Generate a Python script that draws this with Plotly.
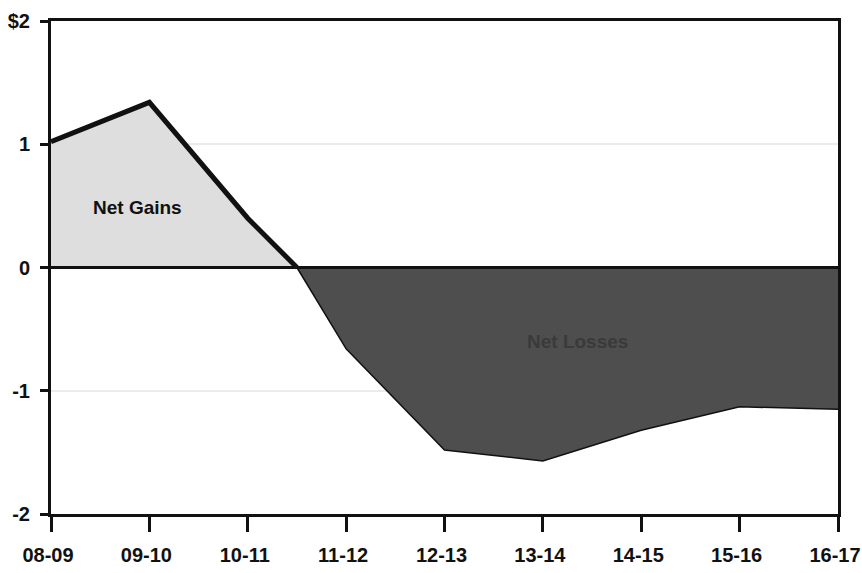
import plotly.graph_objects as go

categories = ["08-09", "09-10", "10-11", "11-12", "12-13", "13-14", "14-15", "15-16", "16-17"]
values = [1.02, 1.34, 0.40, -0.66, -1.48, -1.57, -1.32, -1.13, -1.15]
crossing_pos = 2.5  # where the line crosses zero (between 10-11 and 11-12)
ytick_vals = [2, 1, 0, -1, -2]
ytick_text = ["$2", "1", "0", "-1", "-2"]

idx = list(range(len(categories)))
gain_x = [i for i, v in zip(idx, values) if v >= 0] + [crossing_pos]
gain_y = [v for v in values if v >= 0] + [0]
loss_x = [crossing_pos] + [i for i, v in zip(idx, values) if v < 0]
loss_y = [0] + [v for v in values if v < 0]

FONT = "Liberation Sans, Arial, Helvetica"

fig = go.Figure()
fig.add_trace(go.Scatter(x=gain_x, y=gain_y, mode="lines", fill="tozeroy",
                         fillcolor="#dedede", line=dict(color="#111111", width=5),
                         hoverinfo="skip", showlegend=False))
fig.add_trace(go.Scatter(x=loss_x, y=loss_y, mode="lines", fill="tozeroy",
                         fillcolor="#4e4e4e", line=dict(color="#111111", width=1.5),
                         hoverinfo="skip", showlegend=False))
fig.add_hline(y=0, line=dict(color="#111111", width=3))

fig.add_annotation(x=0.88, y=0.49, text="<b>Net Gains</b>", showarrow=False,
                   font=dict(family=FONT, size=19, color="#111111"))
fig.add_annotation(x=5.35, y=-0.6, text="<b>Net Losses</b>", showarrow=False,
                   font=dict(family=FONT, size=19, color="#3a3a3a"))

fig.update_layout(
    width=862, height=573,
    margin=dict(l=51, r=24, t=21, b=59),
    paper_bgcolor="white", plot_bgcolor="white",
    font=dict(family=FONT, size=20, color="#111111"),
    xaxis=dict(range=[0, 8], tickvals=idx, ticktext=[f"<b>{c}</b>" for c in categories],
               tickfont=dict(family=FONT, size=20, color="#111111"),
               ticklabeloverflow="allow", automargin=False, ticklabelshift=-3,
               showgrid=False, zeroline=False, showline=True, linecolor="#111111",
               linewidth=3, mirror=True, ticks="outside", ticklen=15, tickwidth=3,
               tickcolor="#111111", ticklabelstandoff=6),
    yaxis=dict(range=[-2, 2], tickvals=ytick_vals, ticktext=[f"<b>{t}</b>" for t in ytick_text],
               tickfont=dict(family=FONT, size=20, color="#111111"),
               automargin=False,
               showgrid=True, gridcolor="#ebebeb", gridwidth=2, zeroline=False,
               showline=True, linecolor="#111111", linewidth=3, mirror=True,
               ticks="outside", ticklen=8, tickwidth=3, tickcolor="#111111",
               ticklabelstandoff=6),
)
fig.write_html("out.html", config={"displayModeBar": False},
               post_script="document.body.style.margin='0px';")
